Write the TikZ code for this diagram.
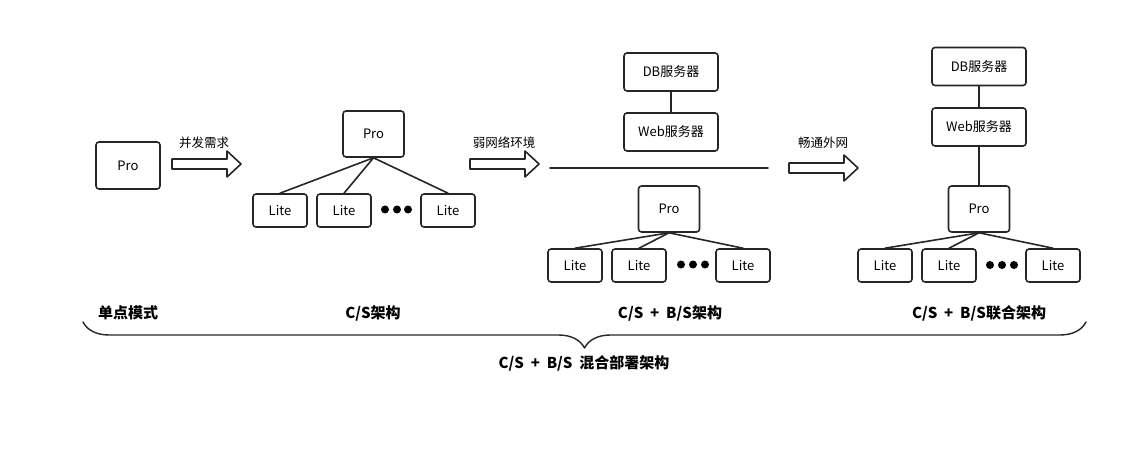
\documentclass[tikz,border=0pt]{standalone}
\usepackage{fontspec}
\setmainfont{Noto Sans CJK SC}
\usepackage{tikz}
\usetikzlibrary{
  calc,                     % 坐标计算
  decorations.pathreplacing,% 大括号装饰
  positioning               % 节点相对定位
}

\begin{document}
\begin{tikzpicture}[x=1pt, y=-1pt, line join=round, line cap=round]
  % 统一设置：方框、连线、箭头与文字样式
  \tikzset{
    box/.style={draw=black!85, line width=1.6pt, rounded corners=3pt,
      fill=white, inner sep=0pt, font=\fontsize{13}{15}\selectfont},
    probox/.style={box, minimum width=61pt, minimum height=46pt},
    litebox/.style={box, minimum width=54pt, minimum height=33pt},
    srvbox/.style={box, minimum width=94pt, minimum height=38pt},
    link/.style={draw=black!85, line width=1.6pt},
    dot/.style={circle, fill=black, inner sep=0pt, minimum size=8pt},
    tag/.style={font=\fontsize{12.5}{15}\selectfont},
    caption/.style={font=\fontsize{15}{18}\selectfont\bfseries},
    fatarrow/.pic={
      \draw[draw=black!85, line width=1.6pt, fill=white]
        (0,-5) -- (55,-5) -- (55,-13) -- (69,0) -- (55,13) -- (55,5) -- (0,5) -- cycle;
    }
  }

  % 画布范围
  \useasboundingbox (0,0) rectangle (1148,449);

  % =======================
  % 单点模式
  % =======================
  \node[probox, minimum width=64pt, minimum height=47pt] (pro1) at (128,165.5) {Pro};

  % 箭头：并发需求
  \pic at (172,164) {fatarrow};
  \node[tag] (tagA) at (204,143) {并发需求};

  % =======================
  % C/S架构
  % =======================
  \node[probox] (proCS) at (373.5,134) {Pro};
  \node[litebox] (liteCS1) at (280,210.5) {Lite};
  \node[litebox] (liteCS2) at (344,210.5) {Lite};
  \node[litebox] (liteCS3) at (448,210.5) {Lite};
  \foreach \i/\x in {1/385, 2/397, 3/408}
    \node[dot] (dotCS\i) at (\x,209.5) {};
  \foreach \i in {1,2,3}
    \draw[link] (proCS.south) -- (liteCS\i.north);

  % 箭头：弱网络环境
  \pic at (470,164) {fatarrow};
  \node[tag] (tagB) at (504,143) {弱网络环境};

  % =======================
  % C/S + B/S架构
  % =======================
  \node[srvbox] (dbMix) at (671,72) {DB服务器};
  \node[srvbox] (webMix) at (671,132) {Web服务器};
  \draw[link] (dbMix) -- (webMix);
  % 内外网分隔线
  \coordinate (sepL) at (550,168);
  \coordinate (sepR) at (768,168);
  \draw[link] (sepL) -- (sepR);
  \node[probox] (proMix) at (669,209) {Pro};
  \node[litebox] (liteMix1) at (575,265.5) {Lite};
  \node[litebox] (liteMix2) at (639,265.5) {Lite};
  \node[litebox] (liteMix3) at (743,265.5) {Lite};
  \foreach \i/\x in {1/681, 2/693, 3/705}
    \node[dot] (dotMix\i) at (\x,264.5) {};
  \foreach \i in {1,2,3}
    \draw[link] (proMix.south) -- (liteMix\i.north);

  % 箭头：畅通外网
  \pic at (789,168) {fatarrow};
  \node[tag] (tagC) at (823,143) {畅通外网};

  % =======================
  % C/S + B/S联合架构
  % =======================
  \node[srvbox] (dbJoint) at (979,66.5) {DB服务器};
  \node[srvbox] (webJoint) at (979,127) {Web服务器};
  \node[probox] (proJoint) at (979,209) {Pro};
  \draw[link] (dbJoint) -- (webJoint);
  \draw[link] (webJoint) -- (proJoint);
  \node[litebox] (liteJoint1) at (885,265.5) {Lite};
  \node[litebox] (liteJoint2) at (949,265.5) {Lite};
  \node[litebox] (liteJoint3) at (1053,265.5) {Lite};
  \foreach \i/\x in {1/990, 2/1002, 3/1014}
    \node[dot] (dotJoint\i) at (\x,265) {};
  \foreach \i in {1,2,3}
    \draw[link] (proJoint.south) -- (liteJoint\i.north);

  % =======================
  % 底部标题与大括号
  % =======================
  \node[caption] (capSingle) at (128,313) {单点模式};
  \node[caption] (capCS) at (373,313) {C/S架构};
  \node[caption] (capMix) at (670,313) {C/S ~+~ B/S架构};
  \node[caption] (capJoint) at (979,313) {C/S ~+~ B/S联合架构};

  \coordinate (braceR) at (1086,322);
  \coordinate (braceL) at (83,322);
  \draw[draw=black!85, line width=1.4pt,
    decorate, decoration={brace, amplitude=26pt, aspect=0.5}]
    (braceR) -- (braceL);
  \node[caption] (capAll) at (584,363) {C/S ~+~ B/S ~混合部署架构};

\end{tikzpicture}
\end{document}
